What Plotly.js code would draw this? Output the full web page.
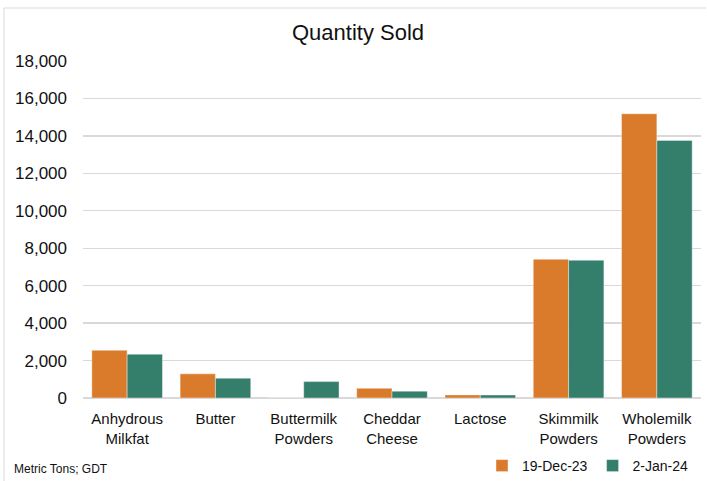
<!DOCTYPE html>
<html>
<head>
<meta charset="utf-8">
<script src="https://cdn.plot.ly/plotly-3.0.1.min.js"></script>
<style>
  html, body { margin: 0; padding: 0; background: #fff; }
  #chart { width: 707px; height: 481px; }
</style>
</head>
<body>
<div id="chart"></div>
<script>
const categories = [
  "Anhydrous<br>Milkfat", "Butter", "Buttermilk<br>Powders", "Cheddar<br>Cheese",
  "Lactose", "Skimmilk<br>Powders", "Wholemilk<br>Powders"
];
const seriesNames = ["19-Dec-23", "2-Jan-24"];
const dec19 = [2550, 1290, 0, 520, 165, 7410, 15180];
const jan2 = [2340, 1060, 875, 365, 160, 7360, 13760];
const yTicks = [0, 2000, 4000, 6000, 8000, 10000, 12000, 14000, 16000, 18000];
const yTickLabels = ["0", "2,000", "4,000", "6,000", "8,000", "10,000", "12,000", "14,000", "16,000", "18,000"];

const colors = ["#DA7B2C", "#347E6C"];

const traces = [
  { type: "bar", name: seriesNames[0], x: categories, y: dec19,
    marker: { color: colors[0], line: { color: "rgba(255,255,255,0.5)", width: 0.8 } } },
  { type: "bar", name: seriesNames[1], x: categories, y: jan2,
    marker: { color: colors[1], line: { color: "rgba(255,255,255,0.5)", width: 0.8 } } }
];

const layout = {
  width: 707, height: 481,
  paper_bgcolor: "#fff", plot_bgcolor: "#fff",
  margin: { l: 83, r: 6, t: 61, b: 83 },
  barmode: "group",
  bargap: 0.2, bargroupgap: 0,
  title: {
    text: "Quantity Sold",
    font: { family: "Liberation Sans, Arial, sans-serif", size: 22, color: "#111" },
    x: 358 / 707, xanchor: "center", xref: "container",
    y: 1 - 32 / 481, yanchor: "middle", yref: "container"
  },
  xaxis: {
    type: "category",
    tickfont: { family: "Liberation Sans, Arial, sans-serif", size: 15, color: "#111" },
    showgrid: false, showline: false, zeroline: false, ticks: "",
    ticklabelstandoff: 10,
    fixedrange: true
  },
  yaxis: {
    range: [0, 18000],
    tickvals: yTicks, ticktext: yTickLabels,
    tickfont: { family: "Liberation Sans, Arial, sans-serif", size: 17, color: "#111" },
    showgrid: true, gridcolor: "#d9d9d9", gridwidth: 1.3,
    zeroline: true, zerolinecolor: "#d9d9d9", zerolinewidth: 1.5,
    showline: false, ticks: "", ticklabelstandoff: 15,
    fixedrange: true
  },
  showlegend: true,
  legend: {
    orientation: "h",
    x: (694 - 83) / 618, xanchor: "right", xref: "paper",
    y: 1 - 466 / 481, yanchor: "middle", yref: "container",
    font: { family: "Liberation Sans, Arial, sans-serif", size: 14, color: "#111" },
    bgcolor: "rgba(0,0,0,0)",
    itemwidth: 30, tracegroupgap: 0
  },
  annotations: [
    {
      text: "Metric Tons; GDT",
      xref: "paper", yref: "paper",
      x: (12 - 83) / 618, y: (398 - 469) / 337,
      xanchor: "left", yanchor: "middle", showarrow: false,
      font: { family: "Liberation Sans, Arial, sans-serif", size: 12, color: "#111" }
    }
  ],
  shapes: [
    { type: "line", xref: "paper", yref: "paper",
      x0: (4 - 83) / 618, x1: (706 - 83) / 618, y0: (398 - 8) / 337, y1: (398 - 8) / 337,
      line: { color: "#d9d9d9", width: 1 } },
    { type: "line", xref: "paper", yref: "paper",
      x0: (4 - 83) / 618, x1: (4 - 83) / 618, y0: (398 - 8) / 337, y1: (398 - 481) / 337,
      line: { color: "#d9d9d9", width: 1 } }
  ]
};

Plotly.newPlot("chart", traces, layout, { displayModeBar: false, staticPlot: true });
</script>
</body>
</html>
